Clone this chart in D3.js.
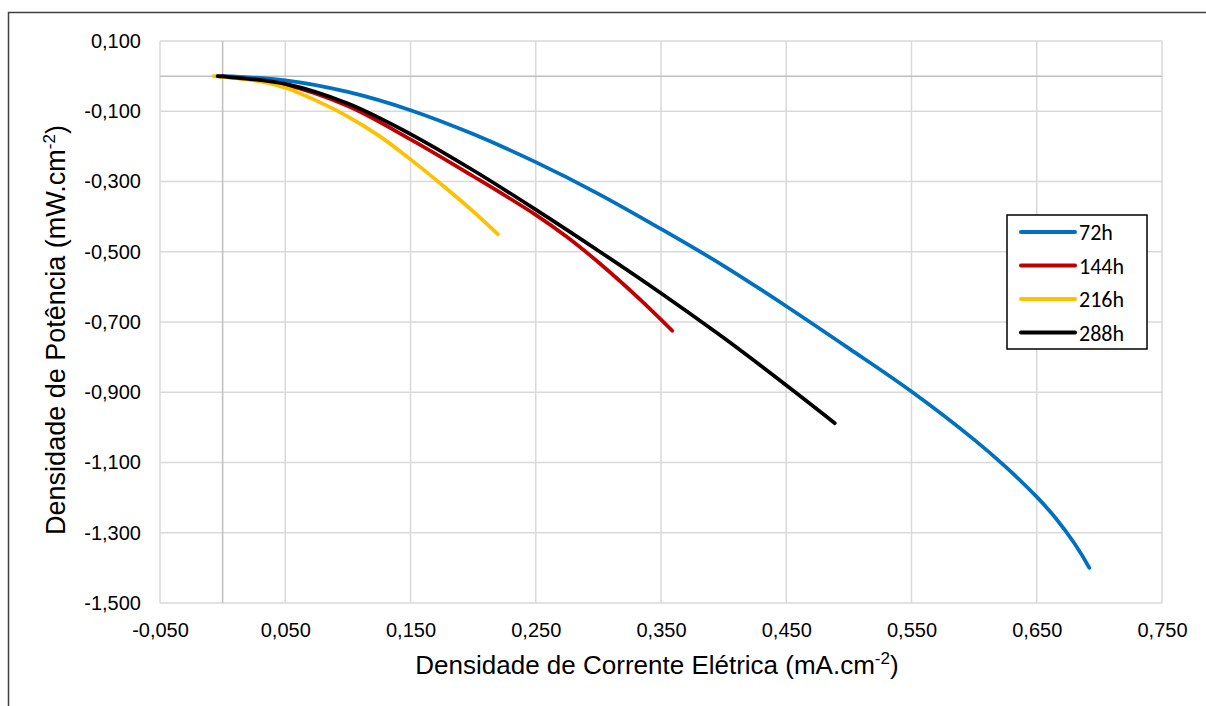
<!DOCTYPE html>
<html>
<head>
<meta charset="utf-8">
<script src="https://cdn.jsdelivr.net/npm/d3@7"></script>
<style>
  body { margin: 0; background: #fff; }
  text { font-family: "Liberation Sans", Arial, sans-serif; }
</style>
</head>
<body>
<div id="chart-area"></div>
<script>
// --- Data ---
var seriesNames = ["72h", "144h", "216h", "288h"];
var seriesColors = ["#0070C0", "#C00000", "#FFC000", "#000000"];

var current72 = [0, 0.05, 0.10, 0.15, 0.20, 0.25, 0.30, 0.35, 0.40, 0.45, 0.50, 0.55, 0.60, 0.625, 0.65, 0.665, 0.68, 0.692];
var power72   = [0, -0.012, -0.045, -0.097, -0.165, -0.245, -0.335, -0.435, -0.54, -0.655, -0.775, -0.898, -1.035, -1.112, -1.198, -1.258, -1.33, -1.40];

var current144 = [-0.004, 0, 0.05, 0.10, 0.15, 0.20, 0.25, 0.275, 0.30, 0.333, 0.359];
var power144   = [0, -0.001, -0.024, -0.085, -0.18, -0.285, -0.395, -0.458, -0.53, -0.635, -0.725];

var current216 = [-0.007, 0, 0.025, 0.05, 0.07, 0.10, 0.125, 0.15, 0.176, 0.20, 0.2197];
var power216   = [0, -0.002, -0.012, -0.033, -0.062, -0.115, -0.17, -0.237, -0.312, -0.385, -0.45];

var current288 = [-0.004, 0, 0.05, 0.10, 0.15, 0.20, 0.25, 0.30, 0.35, 0.40, 0.45, 0.4888];
var power288   = [0, -0.001, -0.022, -0.078, -0.165, -0.268, -0.38, -0.497, -0.618, -0.745, -0.88, -0.988];

var xTicks = [-0.05, 0.05, 0.15, 0.25, 0.35, 0.45, 0.55, 0.65, 0.75];
var yTicks = [0.1, -0.1, -0.3, -0.5, -0.7, -0.9, -1.1, -1.3, -1.5];

var allSeries = [
  { name: seriesNames[0], color: seriesColors[0], xs: current72,  ys: power72 },
  { name: seriesNames[1], color: seriesColors[1], xs: current144, ys: power144 },
  { name: seriesNames[2], color: seriesColors[2], xs: current216, ys: power216 },
  { name: seriesNames[3], color: seriesColors[3], xs: current288, ys: power288 }
];

// --- Canvas ---
var canvasWidth = 1206;
var canvasHeight = 706;
var canvas = d3.select("#chart-area").append("svg")
  .attr("width", canvasWidth)
  .attr("height", canvasHeight);

// outer frame (cropped at right and bottom)
canvas.append("rect")
  .attr("x", 8.5).attr("y", 12.5)
  .attr("width", 1300).attr("height", 800)
  .attr("fill", "none")
  .attr("stroke", "#404040")
  .attr("stroke-width", 1.5);

var margins = { top: 41, left: 160, right: 44, bottom: 103 };
var graphWidth = canvasWidth - margins.left - margins.right;
var graphHeight = canvasHeight - margins.top - margins.bottom;

var graph = canvas.append("g")
  .attr("transform", "translate(" + margins.left + "," + margins.top + ")");

// --- Scales ---
var xScale = d3.scaleLinear().domain([-0.05, 0.75]).range([0, graphWidth]);
var yScale = d3.scaleLinear().domain([0.1, -1.5]).range([0, graphHeight]);
var fmt = function(d) { return d3.format(".3f")(d).replace(".", ",").replace("−", "-"); };

// --- Gridlines ---
graph.append("g").selectAll("line").data(xTicks).enter().append("line")
  .attr("x1", d => xScale(d)).attr("x2", d => xScale(d))
  .attr("y1", 0).attr("y2", graphHeight)
  .attr("stroke", "#D9D9D9").attr("stroke-width", 1.5);
graph.append("g").selectAll("line").data(yTicks).enter().append("line")
  .attr("x1", 0).attr("x2", graphWidth)
  .attr("y1", d => yScale(d)).attr("y2", d => yScale(d))
  .attr("stroke", "#D9D9D9").attr("stroke-width", 1.5);

// zero axis lines
graph.append("line")
  .attr("x1", xScale(0)).attr("x2", xScale(0))
  .attr("y1", 0).attr("y2", graphHeight)
  .attr("stroke", "#BFBFBF").attr("stroke-width", 1.5);
graph.append("line")
  .attr("x1", 0).attr("x2", graphWidth)
  .attr("y1", yScale(0)).attr("y2", yScale(0))
  .attr("stroke", "#BFBFBF").attr("stroke-width", 1.5);

// --- Axes ---
var xAxis = d3.axisBottom(xScale).tickValues(xTicks).tickFormat(fmt).tickSize(0).tickPadding(20);
var xAxisGroup = graph.append("g")
  .attr("transform", "translate(0," + graphHeight + ")")
  .call(xAxis);
xAxisGroup.select(".domain").remove();
xAxisGroup.selectAll("text").attr("font-size", "20px").attr("fill", "#000")
  .style("font-family", "Liberation Sans, Arial, sans-serif");

var yAxis = d3.axisLeft(yScale).tickValues(yTicks).tickFormat(fmt).tickSize(0).tickPadding(19);
var yAxisGroup = graph.append("g").call(yAxis);
yAxisGroup.select(".domain").remove();
yAxisGroup.selectAll("text").attr("font-size", "20px").attr("fill", "#000")
  .style("font-family", "Liberation Sans, Arial, sans-serif");

// --- Lines ---
var line = d3.line()
  .x(d => xScale(d[0]))
  .y(d => yScale(d[1]))
  .curve(d3.curveCatmullRom.alpha(0.5));

allSeries.forEach(function(s) {
  var pts = s.xs.map((x, i) => [x, s.ys[i]]);
  graph.append("path")
    .datum(pts)
    .attr("d", line)
    .attr("fill", "none")
    .attr("stroke", s.color)
    .attr("stroke-width", 3.75)
    .attr("stroke-linecap", "round")
    .attr("stroke-linejoin", "round");
});

// --- Axis titles ---
var xTitle = canvas.append("text")
  .attr("x", margins.left + xScale(0.35) - 4)
  .attr("y", 674)
  .attr("text-anchor", "middle")
  .attr("font-size", "26px")
  .attr("fill", "#000");
xTitle.append("tspan").text("Densidade de Corrente Elétrica (mA.cm");
xTitle.append("tspan").text("-2").attr("font-size", "17px").attr("dy", -10);
xTitle.append("tspan").text(")").attr("dy", 10);

var yTitle = canvas.append("text")
  .attr("transform", "translate(65," + (margins.top + graphHeight / 2 + 8) + ") rotate(-90)")
  .attr("text-anchor", "middle")
  .attr("font-size", "27px")
  .attr("fill", "#000");
yTitle.append("tspan").text("Densidade de Potência (mW.cm");
yTitle.append("tspan").text("-2").attr("font-size", "17px").attr("dy", -10);
yTitle.append("tspan").text(")").attr("dy", 10);

// --- Legend ---
var legend = canvas.append("g").attr("transform", "translate(1007,215)");
legend.append("rect")
  .attr("x", 0).attr("y", 0)
  .attr("width", 140).attr("height", 134)
  .attr("fill", "#fff")
  .attr("stroke", "#000")
  .attr("stroke-width", 1.5);

allSeries.forEach(function(s, i) {
  var row = legend.append("g").attr("transform", "translate(0," + (17 + i * 33.5) + ")");
  row.append("line")
    .attr("x1", 14).attr("x2", 68)
    .attr("y1", 0).attr("y2", 0)
    .attr("stroke", s.color)
    .attr("stroke-width", 4)
    .attr("stroke-linecap", "round");
  row.append("text")
    .attr("x", 72).attr("y", 8)
    .attr("font-size", "22px")
    .style("font-family", "Carlito, Lato, 'Open Sans', sans-serif")
    .attr("fill", "#000")
    .text(s.name);
});
</script>
</body>
</html>
